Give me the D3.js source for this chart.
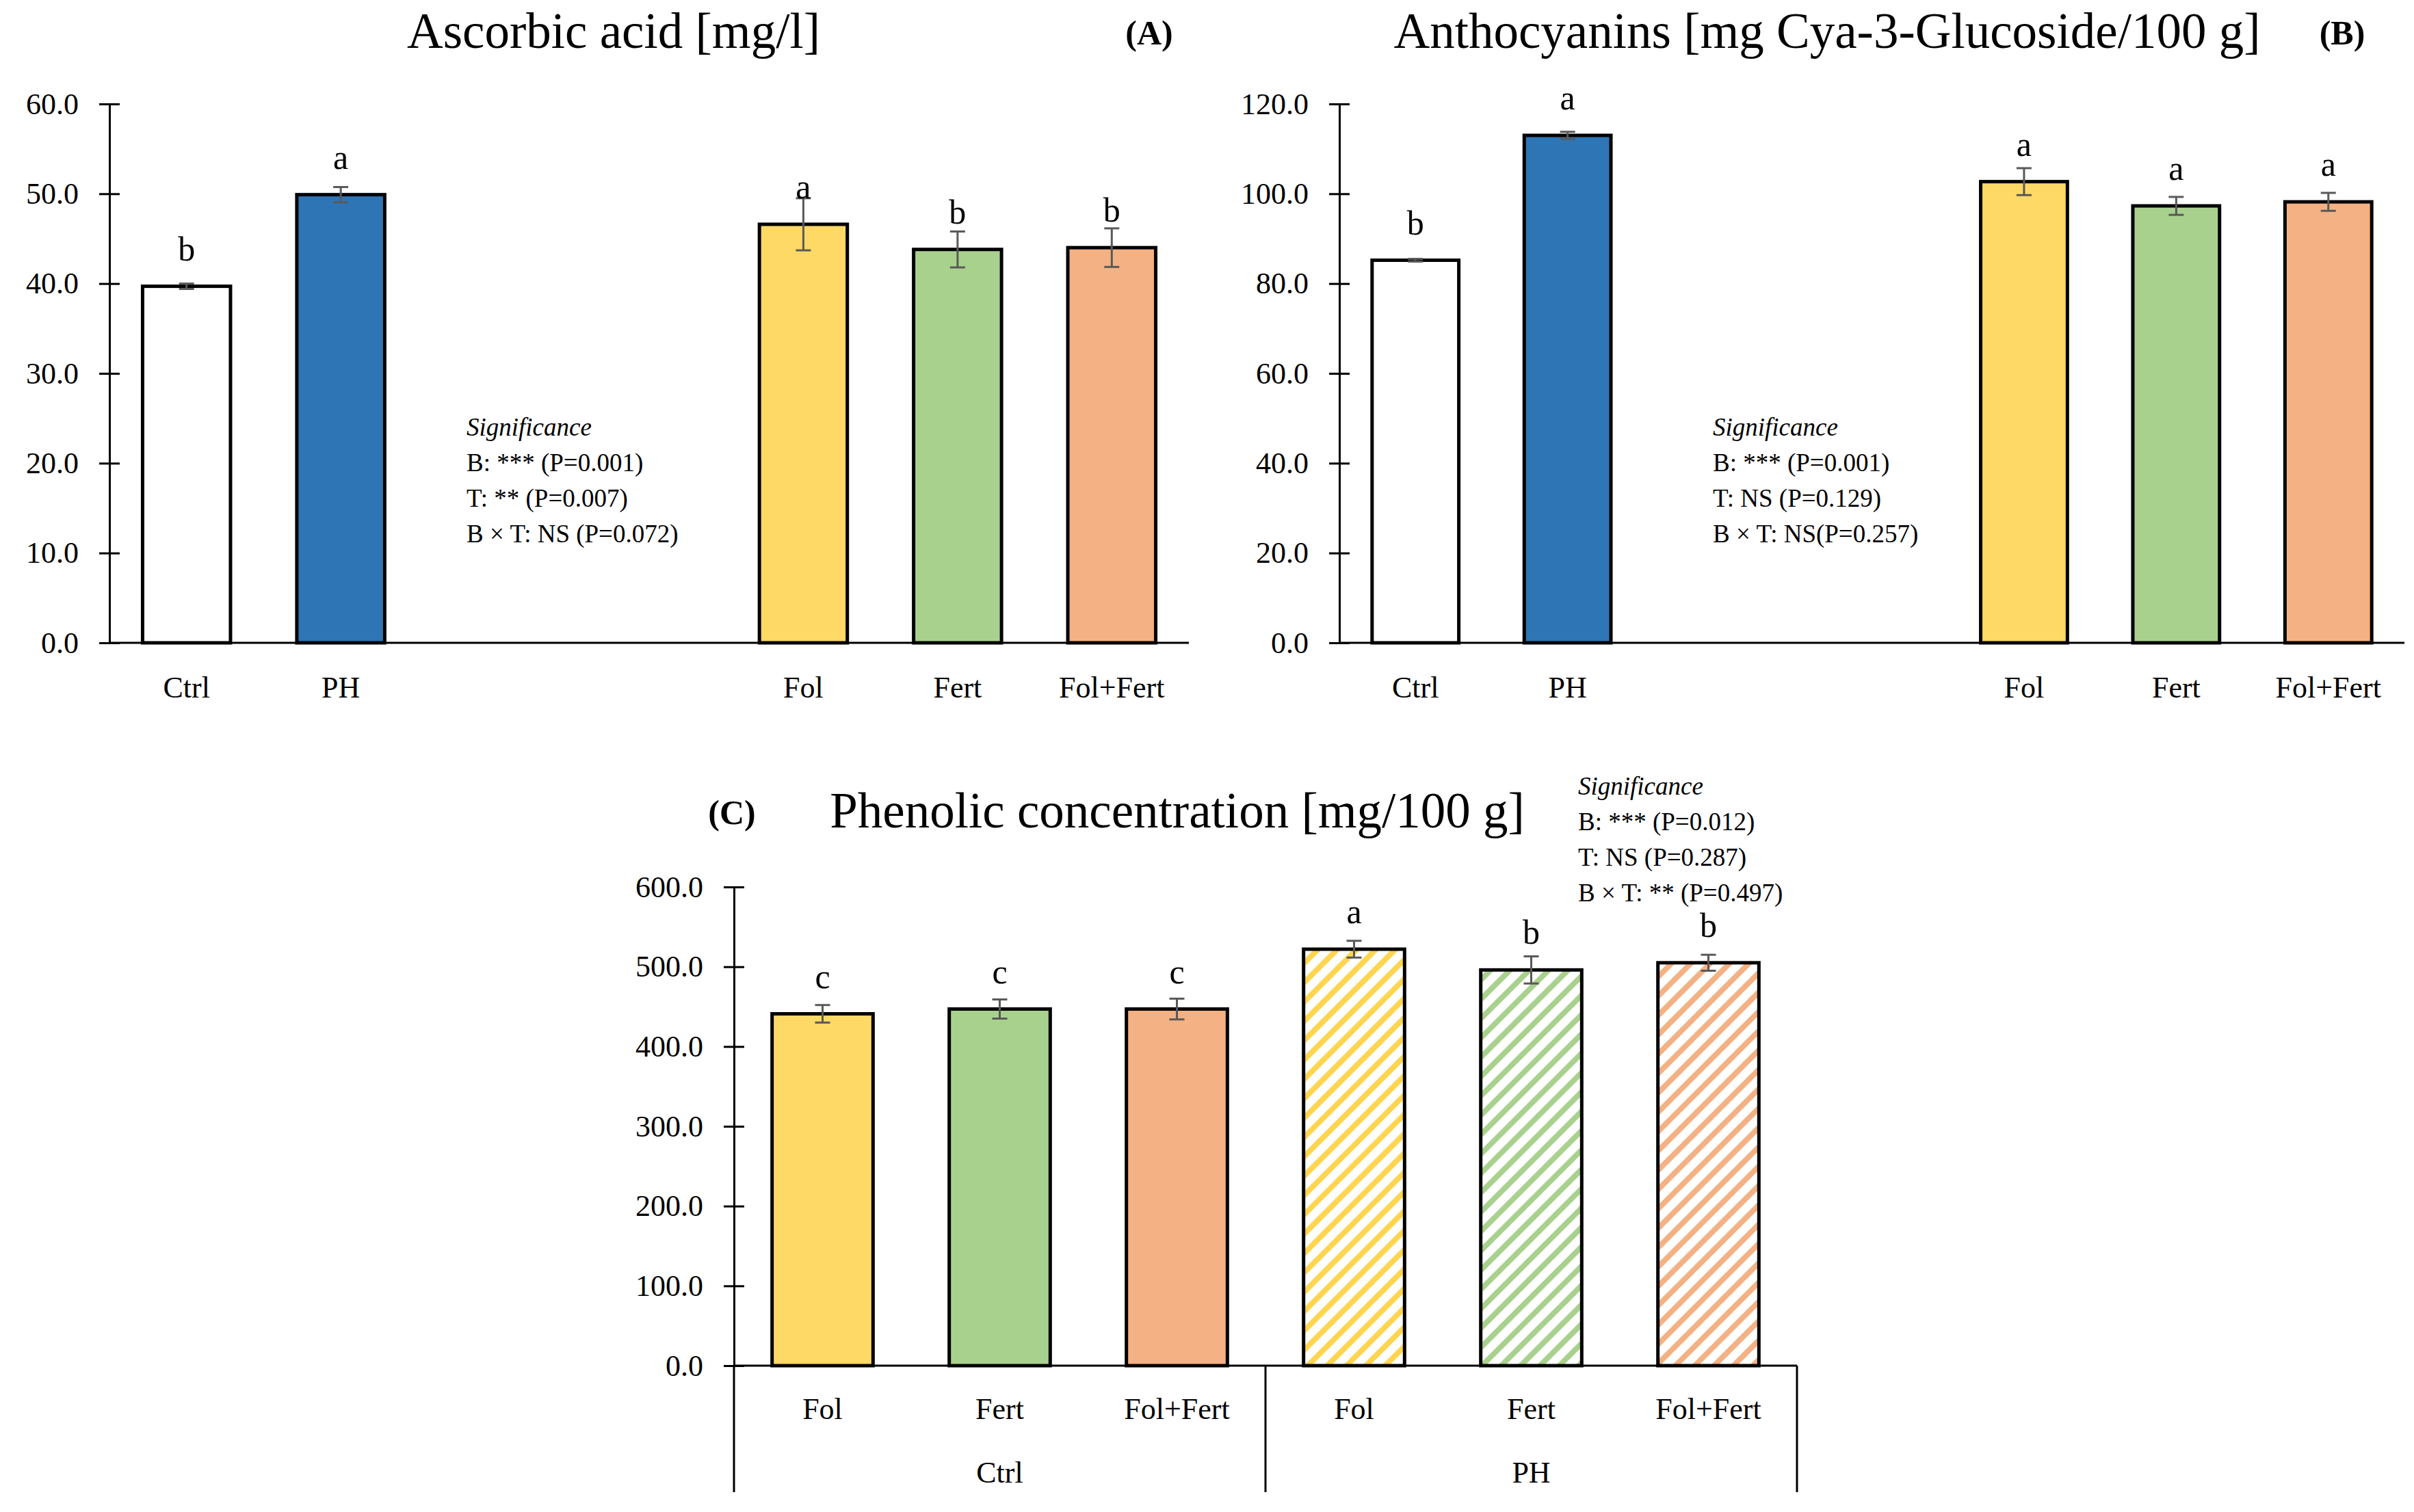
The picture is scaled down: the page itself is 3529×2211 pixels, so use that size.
<!DOCTYPE html>
<html>
<head>
<meta charset="utf-8">
<script src="https://cdn.jsdelivr.net/npm/d3@7"></script>
<style>
  body { margin: 0; background: #fff; }
  text { font-family: "Liberation Serif", "Times New Roman", serif; fill: #000; }
</style>
</head>
<body>
<svg id="chart" width="3529" height="2211"></svg>
<script>
// ---- data ----
var abSlots = ["Ctrl", "PH", "gap1", "gap2", "Fol", "Fert", "Fol+Fert"];
var abCategories = ["Ctrl", "PH", "Fol", "Fert", "Fol+Fert"];

var ascorbicMeans = [39.7, 49.9, 46.6, 43.8, 44.0];
var ascorbicErr = [0.3, 0.85, 2.9, 2.0, 2.15];
var ascorbicLetters = ["b", "a", "a", "b", "b"];
var ascorbicTicks = [0, 10, 20, 30, 40, 50, 60];
var ascorbicSig = ["B: *** (P=0.001)", "T: ** (P=0.007)", "B \u00d7 T: NS (P=0.072)"];

var anthoMeans = [85.2, 113.0, 102.7, 97.3, 98.2];
var anthoErr = [0.3, 0.8, 3.0, 2.0, 2.0];
var anthoLetters = ["b", "a", "a", "a", "a"];
var anthoTicks = [0, 20, 40, 60, 80, 100, 120];
var anthoSig = ["B: *** (P=0.001)", "T: NS (P=0.129)", "B \u00d7 T: NS(P=0.257)"];

var phenolicTreatments = ["Fol", "Fert", "Fol+Fert", "Fol", "Fert", "Fol+Fert"];
var phenolicGroups = ["Ctrl", "PH"];
var phenolicMeans = [441, 447, 447, 522, 496, 505];
var phenolicErr = [11, 12, 13, 10.5, 17, 10];
var phenolicLetters = ["c", "c", "c", "a", "b", "b"];
var phenolicTicks = [0, 100, 200, 300, 400, 500, 600];
var phenolicSig = ["B: *** (P=0.012)", "T: NS (P=0.287)", "B \u00d7 T: ** (P=0.497)"];

// ---- styles ----
var abFills = ["#ffffff", "#2e75b6", "#ffd966", "#a9d18e", "#f4b183"];
var hatchColors = ["#ffd54f", "#a9d18e", "#f4b183"];

var svg = d3.select("#chart");
svg.append("rect").attr("width", 3529).attr("height", 2211).attr("fill", "#fff");

var defs = svg.append("defs");
hatchColors.forEach(function(c, i) {
  var p = defs.append("pattern")
    .attr("id", "hatch" + i)
    .attr("patternUnits", "userSpaceOnUse")
    .attr("width", 20).attr("height", 20)
    .attr("patternTransform", "rotate(45)");
  p.append("rect").attr("width", 20).attr("height", 20).attr("fill", "#fff");
  p.append("rect").attr("width", 8).attr("height", 20).attr("fill", c);
});

var fmt = d3.format(".1f");

function drawPanel(o) {
  var g = svg.append("g");
  var x = d3.scaleBand().domain(o.slots).range([o.left, o.right]).paddingInner(0.43).paddingOuter(0.215);
  var y = d3.scaleLinear().domain([0, o.ticks[o.ticks.length - 1]]).range([o.bottom, o.top]);

  // y axis, ticks cross the axis line
  var ax = g.append("g").attr("transform", "translate(" + o.left + ",0)")
    .call(d3.axisLeft(y).tickValues(o.ticks).tickFormat(fmt).tickSize(15).tickSizeOuter(0).tickPadding(30));
  ax.select(".domain").attr("stroke", "#000").attr("stroke-width", 3);
  ax.selectAll(".tick line").attr("x1", 15).attr("stroke", "#000").attr("stroke-width", 3);
  ax.selectAll(".tick text").attr("font-size", 44).attr("font-family", "Liberation Serif");

  // x axis baseline
  g.append("line").attr("x1", o.left).attr("x2", o.right)
    .attr("y1", y(0)).attr("y2", y(0)).attr("stroke", "#000").attr("stroke-width", 3);

  var items = o.cats.map(function(c, i) {
    return { key: o.keys[i], cat: c, v: o.means[i], e: o.errs[i], l: o.letters[i], fill: o.fills[i] };
  });

  g.selectAll(".bar").data(items).enter().append("rect")
    .attr("class", "bar")
    .attr("x", function(d) { return x(d.key); })
    .attr("width", x.bandwidth())
    .attr("y", function(d) { return y(d.v); })
    .attr("height", function(d) { return y(0) - y(d.v); })
    .attr("fill", function(d) { return d.fill; })
    .attr("stroke", "#000").attr("stroke-width", 5);

  var eb = g.selectAll(".err").data(items).enter().append("g").attr("class", "err")
    .attr("stroke", "#595959").attr("stroke-width", 3);
  eb.append("line")
    .attr("x1", function(d) { return x(d.key) + x.bandwidth() / 2; })
    .attr("x2", function(d) { return x(d.key) + x.bandwidth() / 2; })
    .attr("y1", function(d) { return y(d.v + d.e); })
    .attr("y2", function(d) { return y(d.v - d.e); });
  [1, -1].forEach(function(s) {
    eb.append("line")
      .attr("x1", function(d) { return x(d.key) + x.bandwidth() / 2 - 11; })
      .attr("x2", function(d) { return x(d.key) + x.bandwidth() / 2 + 11; })
      .attr("y1", function(d) { return y(d.v + s * d.e); })
      .attr("y2", function(d) { return y(d.v + s * d.e); });
  });

  g.selectAll(".letter").data(items).enter().append("text")
    .attr("x", function(d) { return x(d.key) + x.bandwidth() / 2; })
    .attr("y", function(d) { return y(d.v) - 38; })
    .attr("text-anchor", "middle").attr("font-size", 50)
    .text(function(d) { return d.l; });

  g.selectAll(".cat").data(items).enter().append("text")
    .attr("x", function(d) { return x(d.key) + x.bandwidth() / 2; })
    .attr("y", y(0) + o.catGap)
    .attr("text-anchor", "middle").attr("font-size", 44)
    .text(function(d) { return d.cat; });

  // significance block
  var sg = g.append("g").attr("transform", "translate(" + o.sigX + "," + o.sigY + ")");
  sg.append("text").attr("font-size", 37).attr("font-style", "italic").text("Significance");
  o.sig.forEach(function(s, i) {
    sg.append("text").attr("y", (i + 1) * 52).attr("font-size", 37).text(s);
  });

  g.append("text").attr("x", o.titleX).attr("y", o.titleY)
    .attr("text-anchor", "middle").attr("font-size", 73).text(o.title);
  g.append("text").attr("x", o.tagX).attr("y", o.tagY)
    .attr("text-anchor", "middle").attr("font-size", 50).attr("font-weight", "bold").text(o.tag);

  return { g: g, x: x, y: y };
}

drawPanel({
  left: 160, right: 1738, top: 152, bottom: 940,
  slots: abSlots, keys: abCategories, cats: abCategories,
  means: ascorbicMeans, errs: ascorbicErr, letters: ascorbicLetters,
  fills: abFills, ticks: ascorbicTicks, catGap: 80,
  sig: ascorbicSig, sigX: 682, sigY: 637,
  title: "Ascorbic acid [mg/l]", titleX: 897, titleY: 70,
  tag: "(A)", tagX: 1680, tagY: 65
});

drawPanel({
  left: 1958, right: 3515, top: 152, bottom: 940,
  slots: abSlots, keys: abCategories, cats: abCategories,
  means: anthoMeans, errs: anthoErr, letters: anthoLetters,
  fills: abFills, ticks: anthoTicks, catGap: 80,
  sig: anthoSig, sigX: 2504, sigY: 637,
  title: "Anthocyanins [mg Cya-3-Glucoside/100 g]", titleX: 2671, titleY: 70,
  tag: "(B)", tagX: 3424, tagY: 65
});

var phenolicKeys = d3.range(phenolicMeans.length).map(String);
var phenolicFills = phenolicMeans.map(function(v, i) {
  return i < 3 ? abFills[i + 2] : "url(#hatch" + (i - 3) + ")";
});
var pc = drawPanel({
  left: 1073, right: 2627, top: 1297, bottom: 1997,
  slots: phenolicKeys, keys: phenolicKeys, cats: phenolicTreatments,
  means: phenolicMeans, errs: phenolicErr, letters: phenolicLetters,
  fills: phenolicFills, ticks: phenolicTicks, catGap: 78,
  sig: phenolicSig, sigX: 2307, sigY: 1162,
  title: "Phenolic concentration [mg/100 g]", titleX: 1721, titleY: 1210,
  tag: "(C)", tagX: 1070, tagY: 1205
});

// group separators and group labels for panel C
var groupEdges = [1073, (1073 + 2627) / 2, 2627];
pc.g.selectAll(".sep").data(groupEdges).enter().append("line")
  .attr("x1", function(d) { return d; }).attr("x2", function(d) { return d; })
  .attr("y1", pc.y(0)).attr("y2", 2182)
  .attr("stroke", "#000").attr("stroke-width", 3);
pc.g.selectAll(".grp").data(phenolicGroups).enter().append("text")
  .attr("x", function(d, i) { return (groupEdges[i] + groupEdges[i + 1]) / 2; })
  .attr("y", 2168).attr("text-anchor", "middle").attr("font-size", 44)
  .text(function(d) { return d; });
</script>
</body>
</html>
